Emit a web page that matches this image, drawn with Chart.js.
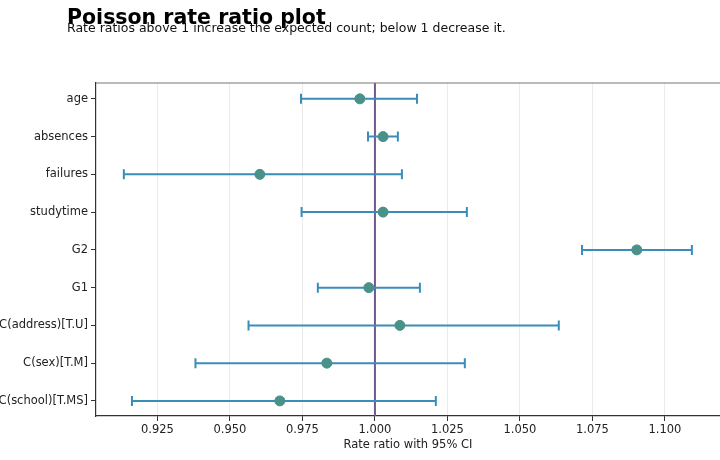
<!DOCTYPE html>
<html>
<head>
<meta charset="utf-8">
<script src="https://cdn.jsdelivr.net/npm/chart.js@4/dist/chart.umd.min.js"></script>
<style>
  html, body { margin: 0; padding: 0; background: #fff; }
  #wrap { position: relative; width: 720px; height: 460px; }
  #title {
    position: absolute; left: 67px; top: 5px;
    font: bold 20.5px "DejaVu Sans", sans-serif; color: #000;
  }
  #subtitle {
    position: absolute; left: 67px; top: 20px;
    font: 12.5px "DejaVu Sans", sans-serif; color: #111;
  }
</style>
</head>
<body>
<div id="wrap">
  <canvas id="chart" width="720" height="460"></canvas>
  <div id="title">Poisson rate ratio plot</div>
  <div id="subtitle">Rate ratios above 1 increase the expected count; below 1 decrease it.</div>
</div>
<script>
// model terms, top to bottom
const terms = ["age", "absences", "failures", "studytime", "G2", "G1",
  "C(address)[T.U]", "C(sex)[T.M]", "C(school)[T.MS]"];
const rateRatio = [0.9948, 1.0028, 0.9603, 1.0028, 1.0903, 0.9979, 1.0086, 0.9834, 0.9672];
const ciLow = [0.9745, 0.9976, 0.9134, 0.9747, 1.0714, 0.9803, 0.9564, 0.9381, 0.9162];
const ciHigh = [1.0145, 1.0079, 1.0093, 1.0317, 1.1093, 1.0155, 1.0634, 1.0310, 1.0210];
const xTicks = [0.925, 0.95, 0.975, 1.0, 1.025, 1.05, 1.075, 1.1];

const errorBars = {
  id: "errorBars",
  beforeDatasetsDraw(chart) {
    const { ctx, chartArea, scales: { x, y } } = chart;
    ctx.save();
    // reference line at 1
    const x1 = x.getPixelForValue(1);
    ctx.strokeStyle = "#74578f";
    ctx.lineWidth = 2;
    ctx.beginPath();
    ctx.moveTo(x1, chartArea.top);
    ctx.lineTo(x1, chartArea.bottom);
    ctx.stroke();

    ctx.strokeStyle = "#3a8dba";
    ctx.lineWidth = 2;
    terms.forEach((t, i) => {
      const yp = y.getPixelForValue(i);
      const a = x.getPixelForValue(ciLow[i]);
      const b = x.getPixelForValue(ciHigh[i]);
      ctx.beginPath();
      ctx.moveTo(a, yp);
      ctx.lineTo(b, yp);
      ctx.moveTo(a, yp - 5);
      ctx.lineTo(a, yp + 5);
      ctx.moveTo(b, yp - 5);
      ctx.lineTo(b, yp + 5);
      ctx.stroke();
    });
    ctx.restore();
  },
  afterDraw(chart) {
    const { ctx, chartArea } = chart;
    ctx.save();
    ctx.strokeStyle = "#777";
    ctx.lineWidth = 1.2;
    ctx.beginPath();
    ctx.moveTo(chartArea.left, chartArea.top);
    ctx.lineTo(chartArea.right, chartArea.top);
    ctx.stroke();
    ctx.restore();
  }
};

new Chart(document.getElementById("chart"), {
  type: "scatter",
  data: {
    datasets: [{
      data: rateRatio.map((v, i) => ({ x: v, y: i })),
      backgroundColor: "#4a918a",
      borderColor: "#4a918a",
      pointRadius: 5,
      pointHoverRadius: 5
    }]
  },
  options: {
    responsive: false,
    animation: false,
    layout: { autoPadding: false, padding: { top: 83, right: 0, left: 0, bottom: 0 } },
    plugins: {
      legend: { display: false },
      tooltip: { enabled: false }
    },
    scales: {
      x: {
        type: "linear",
        min: 0.9038,
        max: 1.119,
        afterBuildTicks: (axis) => { axis.ticks = xTicks.map(v => ({ value: v })); },
        ticks: {
          callback: (v) => Number(v).toFixed(3),
          color: "#222",
          font: { family: "DejaVu Sans", size: 11.5 },
          padding: 2
        },
        grid: { color: "#ebebeb", tickColor: "#333", tickLength: 5 },
        border: { color: "#333", width: 1.2 },
        title: {
          display: true,
          text: "Rate ratio with 95% CI",
          color: "#222",
          font: { family: "DejaVu Sans", size: 11.5 },
          padding: { top: 2, bottom: 8 }
        },
        afterFit: (axis) => {
          axis.height = 44;
          axis.paddingLeft = 0;
          axis.paddingRight = 0;
        }
      },
      y: {
        type: "linear",
        reverse: true,
        min: -0.42,
        max: 8.4,
        afterBuildTicks: (axis) => { axis.ticks = terms.map((t, i) => ({ value: i })); },
        ticks: {
          callback: (v) => terms[v],
          color: "#222",
          font: { family: "DejaVu Sans", size: 11.5 },
          padding: 3
        },
        grid: { drawOnChartArea: false, tickColor: "#333", tickLength: 5 },
        border: { color: "#333", width: 1.2 },
        afterFit: (axis) => {
          axis.width = 96;
          axis.paddingTop = 0;
          axis.paddingBottom = 0;
        }
      }
    }
  },
  plugins: [errorBars]
});
</script>
</body>
</html>
